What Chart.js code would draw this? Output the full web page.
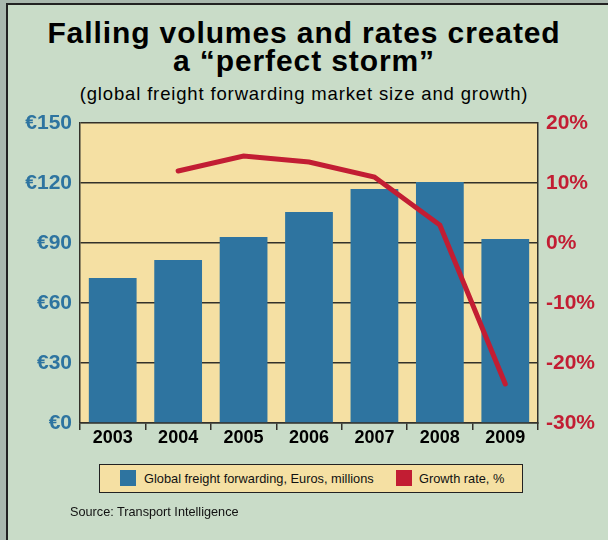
<!DOCTYPE html>
<html>
<head>
<meta charset="utf-8">
<script src="https://cdn.jsdelivr.net/npm/chart.js@4.4.0/dist/chart.umd.min.js"></script>
<style>
html,body{margin:0;padding:0;}
body{width:608px;height:540px;overflow:hidden;background:#a9b8ae;position:relative;font-family:"Liberation Sans",Arial,sans-serif;}
#panel{position:absolute;left:6px;top:3px;width:610px;height:540px;background:#c9dcc8;border-left:2px solid #222;border-top:2px solid #222;}
.t{position:absolute;left:0;width:608px;text-align:center;color:#000;white-space:nowrap;}
#t1{top:16px;font-size:30px;font-weight:bold;line-height:34px;letter-spacing:0.9px;}
#t2{top:44px;font-size:30px;font-weight:bold;line-height:34px;letter-spacing:0.9px;}
#sub{top:83px;font-size:18.5px;line-height:22px;letter-spacing:0.85px;}
#legend{position:absolute;left:99px;top:464px;width:422px;height:27px;background:#f5e0a3;border:1.5px solid #222;font-size:12.8px;color:#111;}
.sw{position:absolute;top:5px;width:16px;height:16px;}
.lt{position:absolute;top:6px;line-height:15px;}
#src{position:absolute;left:70px;top:505px;font-size:12.7px;color:#111;}
canvas{position:absolute;left:0;top:0;}
</style>
</head>
<body>
<div id="panel"></div>
<div class="t" id="t1">Falling volumes and rates created</div>
<div class="t" id="t2">a “perfect storm”</div>
<div class="t" id="sub">(global freight forwarding market size and growth)</div>
<canvas id="c" width="608" height="540"></canvas>
<div id="legend">
  <div class="sw" style="left:20px;background:#2e74a0"></div>
  <div class="lt" style="left:44px">Global freight forwarding, Euros, millions</div>
  <div class="sw" style="left:296px;background:#c21d33"></div>
  <div class="lt" style="left:319px">Growth rate, %</div>
</div>
<div id="src">Source: Transport Intelligence</div>
<script>
const years = ["2003","2004","2005","2006","2007","2008","2009"];
const marketSize = [72.5, 81.5, 93, 105.5, 117, 120.5, 92];
const growthRate = [null, 12, 14.5, 13.5, 11, 3, -23.5];
const leftTicks = [0, 30, 60, 90, 120, 150];
const rightTicks = [-30, -20, -10, 0, 10, 20];

const dark = "#33312a";
const plotBg = {
  id: "plotBg",
  beforeDraw(chart) {
    const a = chart.chartArea, ctx = chart.ctx;
    ctx.save();
    ctx.fillStyle = "#f5e0a3";
    ctx.fillRect(a.left, a.top, a.right - a.left, a.bottom - a.top);
    ctx.restore();
  }
};

new Chart(document.getElementById("c"), {
  data: {
    labels: years,
    datasets: [
      { type: "line", data: growthRate, yAxisID: "yR", borderColor: "#c21d33", borderWidth: 5,
        pointRadius: 0, tension: 0, order: 0, borderCapStyle: "round", borderJoinStyle: "miter", spanGaps: false },
      { type: "bar", data: marketSize, yAxisID: "yL", backgroundColor: "#2e74a0",
        barPercentage: 0.73, categoryPercentage: 1, order: 1 }
    ]
  },
  options: {
    responsive: false,
    animation: false,
    events: [],
    layout: { padding: { top: 123, bottom: 87, left: 0, right: 0 } },
    plugins: { legend: { display: false }, tooltip: { enabled: false }, title: { display: false } },
    scales: {
      x: {
        offset: true,
        grid: { offset: true, drawOnChartArea: false, drawTicks: true, tickLength: 7, color: dark, lineWidth: 1.5 },
        border: { display: true, color: dark, width: 1.5 },
        ticks: { color: "#000", font: { family: "Liberation Sans", size: 18, weight: "bold" }, padding: -3 },
        afterFit(s) { s.height = 30; }
      },
      yL: {
        position: "left", min: 0, max: 150,
        afterBuildTicks(s) { s.ticks = leftTicks.map(v => ({ value: v })); },
        grid: { color: dark, lineWidth: 1.5, drawTicks: false },
        border: { display: true, color: dark, width: 1.5 },
        ticks: { color: "#2e74a0", font: { family: "Liberation Sans", size: 21, weight: "bold" }, padding: 8,
          callback: v => "€" + v },
        afterFit(s) { s.width = 80; }
      },
      yR: {
        position: "right", min: -30, max: 20,
        afterBuildTicks(s) { s.ticks = rightTicks.map(v => ({ value: v })); },
        grid: { drawOnChartArea: false, drawTicks: false },
        border: { display: true, color: dark, width: 1.5 },
        ticks: { color: "#c21d33", font: { family: "Liberation Sans", size: 21, weight: "bold" }, padding: 8,
          callback: v => v + "%" },
        afterFit(s) { s.width = 70; }
      }
    }
  },
  plugins: [plotBg]
});
</script>
</body>
</html>
